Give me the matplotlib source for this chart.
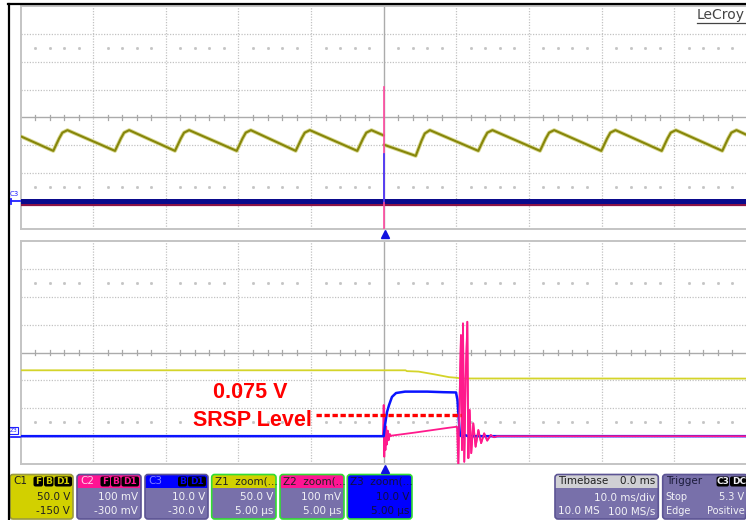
import numpy as np
import matplotlib.pyplot as plt
from matplotlib.patches import FancyBboxPatch, Rectangle

# scope setup: volts/div and offsets per channel
c1_vdiv, c1_offset = 50.0, -150.0
c2_vdiv, c2_offset = 0.1, -0.3
c3_vdiv, c3_offset = 10.0, -30.0
time_div_ms = 10.0
zoom_div_us = 5.0
srsp_level = 0.075  # V on C2

# C1 bus voltage, full record (ms, V)
nan = np.nan
c1_t = [-50.0, -45.51, -44.71, -44.26, -43.56,
        -37.01, -36.21, -35.76, -35.06,
        -28.75, -27.95, -27.50, -26.80,
        -20.25, -19.45, -19.00, -18.30,
        -12.12, -11.32, -10.87, -10.17,
        -3.64, -2.84, -2.39, -1.69, 0.0,
        nan,
        0.0, 4.41, 5.21, 5.66, 6.36,
        13.03, 13.83, 14.28, 14.98,
        21.53, 22.33, 22.78, 23.48,
        29.97, 30.77, 31.22, 31.92,
        38.29, 39.09, 39.54, 40.24,
        46.64, 47.44, 47.89, 48.59, 50.0]
c1_v = [116.0, 89.8, 112.0, 122.5, 127.0,
        89.8, 112.0, 122.5, 127.0,
        89.8, 112.0, 122.5, 127.0,
        89.8, 112.0, 122.5, 127.0,
        89.8, 112.0, 122.5, 127.0,
        89.8, 112.0, 122.5, 127.0, 117.5,
        nan,
        101.0, 80.8, 108.0, 121.0, 127.0,
        89.8, 112.0, 122.5, 127.0,
        89.8, 112.0, 122.5, 127.0,
        89.8, 112.0, 122.5, 127.0,
        89.8, 112.0, 122.5, 127.0,
        89.8, 112.0, 122.5, 127.0, 118.5]
c2_base = -0.015
c3_base = 0.0
c2_spike = [0.408, -0.25]
c3_spike = [16.8, 0.0]

# zoom traces (us)
z1_t = [-25, 1.5, 1.6, 2.4, 3.5, 4.5, 4.96, 5.4, 25]
z1_v = [118.3, 118.3, 116.8, 116.0, 111.0, 106.0, 105.0, 103.6, 103.4]

z3_t = [-25, 0.0, 0.09, 0.23, 0.37, 0.57, 0.85, 1.47, 3.0, 4.1, 4.98,
        5.08, 5.19, 5.25, 5.45, 5.6, 5.8, 25]
z3_v = [0, 0, 4.0, 8.7, 11.2, 14.1, 15.5, 16.0, 16.0, 15.8, 15.7,
        13.0, 4.5, 0.3, -0.3, 0.4, 0, 0]

z2_t = [-25, -0.05, 0.0, 0.04, 0.08, 0.12, 0.17, 0.22, 0.28, 0.34, 0.42, 0.5,
        0.55, 2.16, 4.45, 5.05,
        5.14, 5.19, 5.32, 5.39, 5.46, 5.55, 5.65, 5.76, 5.83, 5.92, 6.03,
        6.17, 6.33, 6.52, 6.71, 6.92, 7.13, 7.37, 7.6, 7.8, 25]
z2_mv = [0, 0, 112, -74, 60, -50, 35, -30, 20, -15, 8, 0,
         2, 13, 30, 34,
         -105, 46, 363, -50, 405, -92, 214, 411, -79, 94, -61,
         46, -38, 22, -25, 10, -16, 4, -4, 0, 0]
srsp_t = [-4.68, 5.3]


def to_div(v, vdiv, offset):
    return (np.asarray(v, dtype=float) + offset) / vdiv


W, H = 746, 520
fig = plt.figure(figsize=(W / 100, H / 100), dpi=100)
fig.patch.set_facecolor('white')


def grid_axes(top, bottom):
    ax = fig.add_axes([20.7 / W, (H - bottom) / H, 726 / W, (bottom - top) / H])
    ax.set_xlim(-5, 5)
    ax.set_ylim(-4, 4)
    ax.set_xticks([])
    ax.set_yticks([])
    for s in ax.spines.values():
        s.set_color('#c4c4c4')
        s.set_linewidth(1.4)
    for x in range(-4, 5):
        if x != 0:
            ax.axvline(x, color='#c2c2c2', lw=0.9, ls=(0, (1, 1.2)), zorder=1)
    for y in range(-3, 4):
        if y != 0:
            ax.axhline(y, color='#c2c2c2', lw=0.9, ls=(0, (1, 1.2)), zorder=1)
    ax.axvline(0, color='#ababab', lw=1.0, zorder=1)
    ax.axhline(0, color='#ababab', lw=1.0, zorder=1)
    minor = [k / 5 for k in range(-25, 26) if k % 5 != 0]
    for x in minor:
        ax.plot([x, x], [-0.1, 0.1], color='#a8a8a8', lw=0.9, zorder=1)
    ax.plot(minor, [2.5] * len(minor), ls='none', marker='s', ms=1.0,
            color='#c4c4c4', zorder=1)
    ax.plot(minor, [-2.5] * len(minor), ls='none', marker='s', ms=1.0,
            color='#c4c4c4', zorder=1)
    return ax


# upper panel: 10 ms/div record
ax1 = grid_axes(6.0, 228.7)
tt = np.asarray(c1_t) / time_div_ms
ax1.plot(tt, to_div(c1_v, c1_vdiv, c1_offset), color='#d8d890', lw=2.8,
         solid_capstyle='butt', zorder=3)
ax1.plot(tt, to_div(c1_v, c1_vdiv, c1_offset), color='#86860a', lw=1.5, zorder=4)
ax1.plot([-5, 5], to_div([c2_base, c2_base], c2_vdiv, c2_offset),
         color='#8c1446', lw=1.6, zorder=3)
ax1.plot([-5, 5], to_div([c3_base, c3_base], c3_vdiv, c3_offset),
         color='#0a0a8c', lw=3.6, zorder=4)
ax1.plot([0, 0], to_div(c2_spike, c2_vdiv, c2_offset), color='#ff4aa0',
         lw=1.2, zorder=5)
ax1.plot([0, 0], to_div(c3_spike, c3_vdiv, c3_offset), color='#3a3aff',
         lw=1.2, zorder=6)

# lower panel: 5 us/div zoom around the trigger
ax2 = grid_axes(241.3, 464.0)
ax2.plot(np.asarray(z1_t) / zoom_div_us, to_div(z1_v, c1_vdiv, c1_offset),
         color='#d4d42a', lw=1.3, zorder=3)
ax2.plot(np.asarray(z2_t) / zoom_div_us,
         to_div(np.asarray(z2_mv) / 1000, c2_vdiv, c2_offset),
         color='#ff1a8c', lw=1.3, zorder=4)
ax2.plot(np.asarray(z3_t) / zoom_div_us, to_div(z3_v, c3_vdiv, c3_offset),
         color='#0a14ff', lw=1.8, zorder=5)
# ringing after turn-off drawn over the blue trace
ax2.plot(np.asarray(z2_t[16:]) / zoom_div_us,
         to_div(np.asarray(z2_mv[16:]) / 1000, c2_vdiv, c2_offset),
         color='#ff1a8c', lw=1.2, zorder=6)
ax2.plot(np.asarray(srsp_t) / zoom_div_us,
         to_div([srsp_level, srsp_level], c2_vdiv, c2_offset),
         color='#ff0000', lw=2.4, ls=(0, (1.6, 0.8)), zorder=7)

# overlay in pixel coordinates for frame, labels and descriptor boxes
ov = fig.add_axes([0, 0, 1, 1])
ov.set_xlim(0, W)
ov.set_ylim(H, 0)
ov.axis('off')
ov.patch.set_visible(False)

ov.plot([8, W], [4, 4], color='black', lw=1.6)
ov.plot([8.5, 8.5], [4, H], color='black', lw=1.6)

ov.text(697, 15, 'LeCroy', fontsize=10, color='#444444', va='center', ha='left')
ov.plot([697, 746], [22.5, 22.5], color='#444444', lw=0.9)

ov.text(9.5, 194, 'C3', fontsize=5, color='#2020ff', va='center')
ov.plot([11, 20], [201, 201], color='#2020ff', lw=1.3)
ov.plot([11, 11], [199, 203.5], color='#2020ff', lw=1.3)
ov.add_patch(Rectangle((9, 427), 8.5, 6.5, fc='none', ec='#2020ff', lw=0.8))
ov.text(13.2, 430.3, 'Z3', fontsize=4.2, color='#2020ff', va='center', ha='center')
ov.plot([11, 20], [437, 437], color='#2020ff', lw=1.3)

ov.plot([384.7], [233.5], marker='^', ms=6, color='#1010e0', ls='none')
ov.plot([384.7], [468.5], marker='^', ms=6, color='#1010e0', ls='none')

ov.text(250.5, 393, f'{srsp_level:.3f} V', fontsize=15.5, fontweight='bold',
        color='#ff0000', family='Liberation Sans', ha='center', va='center')
ov.text(252, 421, 'SRSP Level', fontsize=15.5, fontweight='bold', color='#ff0000',
        family='Liberation Sans', ha='center', va='center')

YELLOW = '#d2d000'
PINK = '#ff1493'
BLUE = '#0000ff'
PURPLE = '#7870aa'
GREY = '#d0d0d4'
GREEN = '#33dd33'
LIGHT = '#f2f2f6'


def desc_box(x0, x1, head_fc, body_fc, edge, title, title_c, rows, text_c,
             badges=(), head_right=None, fs=7.5):
    y0, y1, yh = 474.5, 519.0, 488.0
    ov.add_patch(FancyBboxPatch((x0, y0), x1 - x0, y1 - y0,
                                boxstyle='round,pad=0,rounding_size=3',
                                fc=body_fc, ec='none'))
    ov.add_patch(FancyBboxPatch((x0, y0), x1 - x0, yh - y0,
                                boxstyle='round,pad=0,rounding_size=3',
                                fc=head_fc, ec='none'))
    ov.add_patch(Rectangle((x0, y0 + 4), x1 - x0, yh - y0 - 4, fc=head_fc, ec='none'))
    ov.add_patch(FancyBboxPatch((x0, y0), x1 - x0, y1 - y0,
                                boxstyle='round,pad=0,rounding_size=3',
                                fc='none', ec=edge, lw=1.2))
    ov.text(x0 + 3, 481.5, title, fontsize=7.5, color=title_c, va='center')
    if head_right:
        ov.text(x1 - 3, 481.5, head_right, fontsize=7.5, color=title_c,
                va='center', ha='right')
    for lab, bx0, bx1 in badges:
        ov.add_patch(FancyBboxPatch((bx0, 476.5), bx1 - bx0, 10,
                                    boxstyle='round,pad=0,rounding_size=2',
                                    fc='black', ec='none'))
        ov.text((bx0 + bx1) / 2, 481.7, lab, fontsize=6.5, fontweight='bold',
                color=LIGHT if head_fc in (GREY, PURPLE) else head_fc,
                ha='center', va='center')
    for (left, right), y in zip(rows, (497.5, 511.5)):
        if left:
            ov.text(x0 + 3, y, left, fontsize=fs, color=text_c, va='center')
        if right:
            ov.text(x1 - 3, y, right, fontsize=fs, color=text_c, va='center',
                    ha='right')


desc_box(10, 73, YELLOW, YELLOW, '#9a9a40', 'C1', '#202020',
         [('', '50.0 V'), ('', '-150 V')], '#202020',
         badges=[('F', 33.5, 43), ('B', 44, 53.5), ('D1', 54.5, 72)])
desc_box(77, 141, PINK, PURPLE, '#5c5494', 'C2', '#ffd0e8',
         [('', '100 mV'), ('', '-300 mV')], LIGHT,
         badges=[('F', 100.5, 110), ('B', 111, 120.5), ('D1', 121.5, 139)])
desc_box(145, 208, BLUE, PURPLE, '#5c5494', 'C3', '#8080ff',
         [('', '10.0 V'), ('', '-30.0 V')], LIGHT,
         badges=[('B', 178, 187), ('D1', 188, 206)])
desc_box(211.7, 276, YELLOW, PURPLE, GREEN, 'Z1  zoom(...', '#202020',
         [('', '50.0 V'), ('', '5.00 µs')], LIGHT)
desc_box(280, 344, PINK, PURPLE, GREEN, 'Z2  zoom(...', '#202020',
         [('', '100 mV'), ('', '5.00 µs')], LIGHT)
desc_box(347.3, 412, BLUE, BLUE, GREEN, 'Z3  zoom(...', '#101040',
         [('', '10.0 V'), ('', '5.00 µs')], '#101040')
desc_box(555, 658.3, GREY, PURPLE, '#5c5494', 'Timebase', '#202020',
         [('', '10.0 ms/div'), ('10.0 MS', '100 MS/s')], LIGHT,
         head_right='0.0 ms')
# trigger box runs past the right edge of the screen
desc_box(662.7, 747.5, PURPLE, PURPLE, '#5c5494', 'Trigger', '#1c1c3c',
         [('Stop', '5.3 V'), ('Edge', 'Positive')], LIGHT,
         badges=[('C3', 716.5, 729), ('DC', 730, 748)], fs=7.0)

fig.savefig('out.png', dpi=100)
